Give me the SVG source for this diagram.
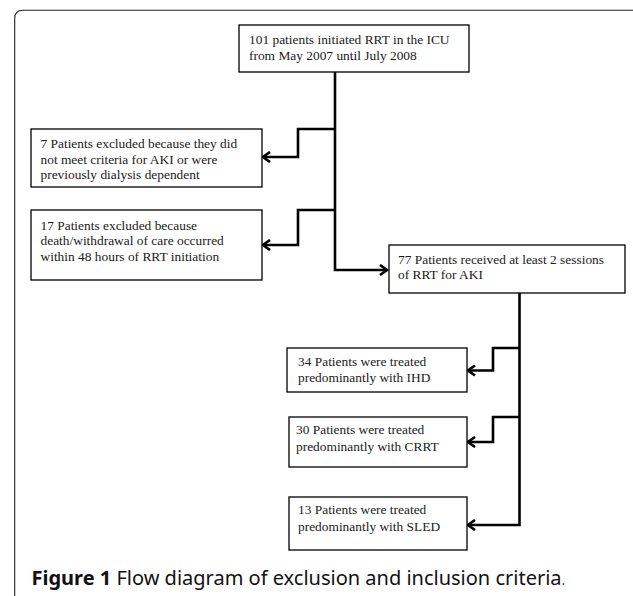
<svg xmlns="http://www.w3.org/2000/svg" width="633" height="596" viewBox="0 0 633 596">
<style>
.box{fill:#fff;stroke:#000;stroke-width:1.3}
.t{font-family:"Liberation Serif","Times New Roman",serif;font-size:13.4px;fill:#1a1a1a}
.c{fill:none;stroke:#000;stroke-width:2.6;stroke-linejoin:miter}
.cap{font-family:"Noto Sans","Open Sans",sans-serif;font-size:20px;fill:#111}
</style>
<defs>
<marker id="ah" viewBox="0 0 10 12" refX="8.5" refY="6" markerWidth="10" markerHeight="12" orient="auto" markerUnits="userSpaceOnUse">
<path d="M1.5,1 L8.5,6 L1.5,11" fill="none" stroke="#000" stroke-width="2.6"/>
</marker>
</defs>
<rect width="633" height="596" fill="#fff"/>
<path d="M14.7,596 V18.5 Q14.7,10.3 23,10.3 H633" fill="none" stroke="#222" stroke-width="1.1"/>
<g id="connectors">
<path class="c" d="M335,72 V270 H387" marker-end="url(#ah)"/>
<path class="c" d="M335,129 H298 V157 H263" marker-end="url(#ah)"/>
<path class="c" d="M335,210 H298 V245 H263" marker-end="url(#ah)"/>
<path class="c" d="M519.5,293 V525 H468" marker-end="url(#ah)"/>
<path class="c" d="M519.5,348 H493 V370.5 H468" marker-end="url(#ah)"/>
<path class="c" d="M519.5,417 H493 V442 H468" marker-end="url(#ah)"/>
</g>
<g id="n1"><rect class="box" x="239" y="25" width="230" height="47"/>
<text class="t" x="249" y="44" font-size="13.8">101 patients initiated RRT in the ICU</text>
<text class="t" x="249" y="59.5" font-size="13.8">from May 2007 until July 2008</text></g>
<g id="n2"><rect class="box" x="31" y="129" width="231" height="58"/>
<text class="t" x="40.5" y="147.5">7 Patients excluded because they did</text>
<text class="t" x="40.5" y="163.5">not meet criteria for AKI or were</text>
<text class="t" x="40.5" y="179">previously dialysis dependent</text></g>
<g id="n3"><rect class="box" x="31" y="210" width="231" height="70"/>
<text class="t" x="40.5" y="229.5">17 Patients excluded because</text>
<text class="t" x="40.5" y="245">death/withdrawal of care occurred</text>
<text class="t" x="40.5" y="260.5">within 48 hours of RRT initiation</text></g>
<g id="n4"><rect class="box" x="389" y="245" width="236" height="48"/>
<text class="t" x="398" y="263.5">77 Patients received at least 2 sessions</text>
<text class="t" x="398" y="279">of RRT for AKI</text></g>
<g id="n5"><rect class="box" x="287" y="348" width="180" height="44"/>
<text class="t" x="298" y="365.5">34 Patients were treated</text>
<text class="t" x="298" y="382">predominantly with IHD</text></g>
<g id="n6"><rect class="box" x="289" y="417" width="178" height="50"/>
<text class="t" x="296" y="434">30 Patients were treated</text>
<text class="t" x="296" y="450.5">predominantly with CRRT</text></g>
<g id="n7"><rect class="box" x="289" y="497" width="178" height="53"/>
<text class="t" x="298" y="514">13 Patients were treated</text>
<text class="t" x="298" y="530.5">predominantly with SLED</text></g>
<text class="cap" x="31.5" y="585"><tspan font-weight="bold">Figure 1</tspan> Flow diagram of exclusion and inclusion criteria<tspan font-size="14" fill="#444">.</tspan></text>
</svg>
